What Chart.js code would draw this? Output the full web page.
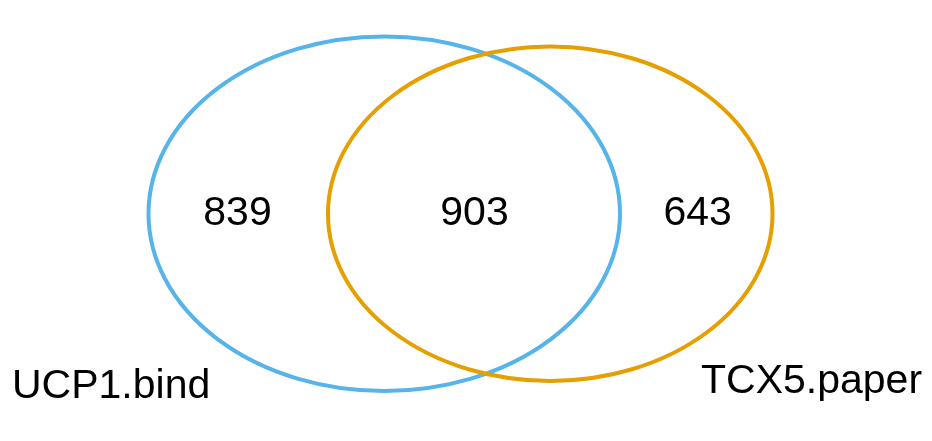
<!DOCTYPE html>
<html>
<head>
<meta charset="utf-8">
<script src="https://cdn.jsdelivr.net/npm/chart.js@4/dist/chart.umd.min.js"></script>
<style>
  html, body { margin: 0; padding: 0; background: #fff; }
  #wrap { width: 932px; height: 441px; position: relative; }
</style>
</head>
<body>
<div id="wrap"><canvas id="venn"></canvas></div>
<script>
// Venn data
const setNames = ['UCP1.bind', 'TCX5.paper'];
const regionLabels = ['UCP1.bind only', 'both', 'TCX5.paper only'];
const regionCounts = [839, 903, 643];

// layout in plot units (x right, y down), same as the 932x441 canvas
const ellipseCx = [384.25, 550.25];
const ellipseCy = [213.75, 213.75];
const ellipseRx = [235.75, 222.25];
const ellipseRy = [177.25, 167.25];
const countX = [237.5, 474.5, 697.7];
const countY = [213.5, 213.5, 213.5];
const nameX = [12, 701];
const nameY = [398, 393];

const setColors = ['#56B4E9', '#E69F00'];
const fontFamily = '"Liberation Sans", Arial, sans-serif';

const vennPlugin = {
    id: 'venn',
    afterDatasetsDraw(chart) {
        const ctx = chart.ctx;
        const xs = chart.scales.x;
        const ys = chart.scales.y;
        ctx.save();
        // ellipses
        setNames.forEach((name, i) => {
            const cx = xs.getPixelForValue(ellipseCx[i]);
            const cy = ys.getPixelForValue(ellipseCy[i]);
            const rx = Math.abs(xs.getPixelForValue(ellipseCx[i] + ellipseRx[i]) - cx);
            const ry = Math.abs(ys.getPixelForValue(ellipseCy[i] + ellipseRy[i]) - cy);
            ctx.beginPath();
            ctx.ellipse(cx, cy, rx, ry, 0, 0, Math.PI * 2);
            ctx.lineWidth = 4;
            ctx.strokeStyle = setColors[i];
            ctx.stroke();
        });
        // region counts, from the points of dataset 0
        ctx.fillStyle = '#000';
        ctx.font = '41px ' + fontFamily;
        ctx.textAlign = 'center';
        ctx.textBaseline = 'middle';
        chart.getDatasetMeta(0).data.forEach((pt, i) => {
            ctx.fillText(String(regionCounts[i]), pt.x, pt.y);
        });
        // set names, from the points of dataset 1
        ctx.textAlign = 'left';
        ctx.textBaseline = 'alphabetic';
        chart.getDatasetMeta(1).data.forEach((pt, i) => {
            ctx.fillText(setNames[i], pt.x, pt.y);
        });
        ctx.restore();
    }
};

const ctx = document.getElementById('venn').getContext('2d');
new Chart(ctx, {
    type: 'scatter',
    data: {
        datasets: [
            {
                label: 'counts',
                data: regionCounts.map((v, i) => ({ x: countX[i], y: countY[i], v: v, r: regionLabels[i] })),
                pointRadius: 0
            },
            {
                label: 'sets',
                data: setNames.map((n, i) => ({ x: nameX[i], y: nameY[i] })),
                pointRadius: 0
            }
        ]
    },
    options: {
        responsive: true,
        maintainAspectRatio: false,
        animation: false,
        layout: { padding: 0 },
        scales: {
            x: { type: 'linear', min: 0, max: 932, display: false },
            y: { type: 'linear', min: 0, max: 441, reverse: true, display: false }
        },
        plugins: {
            legend: { display: false },
            tooltip: { enabled: false }
        }
    },
    plugins: [vennPlugin]
});
</script>
</body>
</html>
